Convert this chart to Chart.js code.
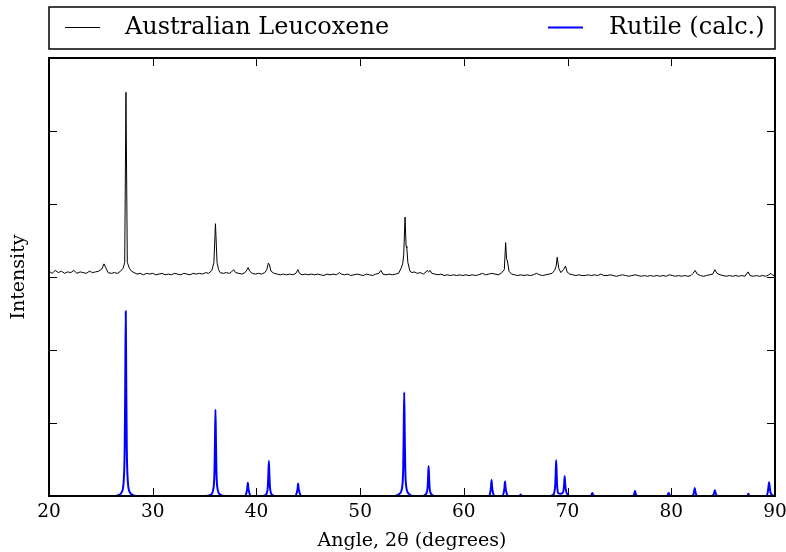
<!DOCTYPE html>
<html>
<head>
<meta charset="utf-8">
<script src="https://cdn.jsdelivr.net/npm/chart.js@4.4.1/dist/chart.umd.min.js"></script>
<style>
  body { margin: 0; background: #fff; }
  #wrap { width: 786px; height: 552px; }
</style>
</head>
<body>
<div id="wrap"><canvas id="xrd" width="786" height="552"></canvas></div>
<script>
// measured pattern, 2theta (deg) vs intensity (offset by 3)
const leucoxene = [
    [20.0,3.08],[20.3,3.05],[20.6,3.09],[20.9,3.06],[21.2,3.08],[21.5,3.05],[21.8,3.07],[22.1,3.06],
    [22.4,3.09],[22.7,3.05],[23.0,3.07],[23.3,3.06],[23.6,3.05],[23.9,3.08],[24.2,3.06],[24.5,3.07],
    [24.8,3.08],[25.1,3.11],[25.3,3.18],[25.5,3.12],[25.7,3.06],[26.0,3.05],[26.3,3.06],[26.6,3.05],
    [26.9,3.08],[27.15,3.12],[27.3,3.2],[27.42,5.53],[27.55,3.2],[27.75,3.12],
    [27.95,3.08],[28.2,3.06],[28.5,3.04],[28.8,3.05],[29.1,3.03],[29.4,3.05],[29.7,3.04],[30.0,3.05],
    [30.3,3.03],[30.6,3.04],[30.9,3.05],[31.2,3.03],[31.5,3.04],[31.8,3.03],[32.1,3.05],[32.4,3.04],
    [32.7,3.03],[33.0,3.05],[33.3,3.04],[33.6,3.03],[33.9,3.05],[34.2,3.04],[34.5,3.05],[34.8,3.04],
    [35.1,3.06],[35.4,3.05],[35.7,3.09],[35.9,3.2],[36.05,3.73],[36.2,3.2],[36.35,3.1],
    [36.5,3.06],[36.8,3.05],[37.1,3.06],[37.4,3.05],[37.6,3.07],[37.8,3.1],[38.0,3.06],[38.3,3.05],
    [38.6,3.04],[38.9,3.06],[39.1,3.1],[39.2,3.13],[39.35,3.08],[39.6,3.05],[39.9,3.04],[40.2,3.05],
    [40.5,3.04],[40.8,3.06],[41.0,3.1],[41.15,3.19],[41.25,3.17],[41.4,3.08],[41.7,3.05],[42.0,3.04],
    [42.3,3.03],[42.6,3.04],[42.9,3.03],[43.2,3.04],[43.5,3.03],[43.8,3.05],[44.0,3.1],[44.15,3.05],
    [44.4,3.03],[44.7,3.04],[45.0,3.03],[45.3,3.04],[45.6,3.03],[45.9,3.04],[46.2,3.03],[46.5,3.02],
    [46.8,3.04],[47.1,3.03],[47.4,3.04],[47.7,3.03],[48.0,3.06],[48.2,3.04],[48.5,3.03],[48.8,3.04],
    [49.1,3.02],[49.4,3.03],[49.7,3.04],[50.0,3.03],[50.3,3.02],[50.6,3.04],[50.9,3.03],[51.2,3.02],
    [51.5,3.04],[51.8,3.05],[52.0,3.09],[52.2,3.04],[52.5,3.03],[52.8,3.04],[53.1,3.03],[53.4,3.04],
    [53.7,3.05],[53.95,3.12],[54.1,3.18],[54.2,3.3],[54.33,3.82],[54.43,3.42],[54.5,3.4],[54.6,3.2],
    [54.8,3.08],[55.0,3.06],[55.2,3.07],[55.5,3.05],[55.8,3.06],[56.1,3.04],[56.35,3.07],[56.45,3.09],
    [56.6,3.07],[56.75,3.09],[56.9,3.05],[57.2,3.04],[57.5,3.03],[57.8,3.04],[58.1,3.02],[58.4,3.03],
    [58.7,3.02],[59.0,3.03],[59.3,3.02],[59.6,3.03],[59.9,3.02],[60.2,3.03],[60.5,3.02],[60.8,3.03],
    [61.1,3.02],[61.4,3.03],[61.8,3.05],[62.1,3.03],[62.4,3.04],[62.7,3.05],[63.0,3.04],[63.3,3.03],
    [63.6,3.05],[63.9,3.1],[64.03,3.47],[64.12,3.25],[64.2,3.22],[64.35,3.08],[64.6,3.04],
    [64.9,3.03],[65.2,3.02],[65.5,3.03],[65.8,3.02],[66.1,3.03],[66.4,3.02],[66.7,3.03],[67.0,3.05],
    [67.3,3.03],[67.6,3.02],[67.9,3.03],[68.2,3.04],[68.5,3.05],[68.75,3.09],[68.9,3.15],[69.0,3.27],
    [69.15,3.12],[69.35,3.06],[69.6,3.1],[69.8,3.15],[69.95,3.07],[70.2,3.04],[70.5,3.03],[70.8,3.02],
    [71.1,3.03],[71.4,3.02],[71.7,3.02],[72.0,3.03],[72.3,3.02],[72.6,3.03],[72.9,3.02],[73.2,3.04],
    [73.5,3.02],[73.8,3.02],[74.1,3.03],[74.4,3.02],[74.7,3.01],[75.0,3.02],[75.3,3.03],[75.6,3.02],
    [75.9,3.01],[76.2,3.02],[76.5,3.03],[76.8,3.02],[77.1,3.01],[77.4,3.02],[77.7,3.01],[78.0,3.02],
    [78.3,3.01],[78.6,3.02],[78.9,3.01],[79.2,3.02],[79.5,3.01],[79.8,3.03],[80.1,3.02],[80.4,3.01],
    [80.7,3.02],[81.0,3.01],[81.3,3.02],[81.6,3.01],[81.9,3.02],[82.1,3.05],[82.3,3.09],[82.5,3.04],
    [82.8,3.02],[83.1,3.01],[83.4,3.02],[83.7,3.03],[84.0,3.04],[84.2,3.1],[84.4,3.05],[84.7,3.03],
    [85.0,3.02],[85.3,3.01],[85.6,3.02],[85.9,3.01],[86.2,3.02],[86.5,3.01],[86.8,3.02],[87.1,3.01],
    [87.4,3.07],[87.6,3.02],[87.9,3.01],[88.2,3.02],[88.5,3.01],[88.8,3.02],[89.1,3.01],[89.4,3.03],
    [89.6,3.05],[89.8,3.02],[90.0,3.03]
];
// calculated rutile pattern
const rutile = [
    [20,0],
    [26.3,0],[26.8,0.02],[27.0,0.05],[27.2,0.2],[27.3,0.66],[27.35,1.52],[27.4,2.53],[27.45,1.52],[27.5,0.66],[27.6,0.2],[27.8,0.05],[28.0,0.02],[28.5,0],
    [35.1,0],[35.6,0.02],[35.85,0.1],[35.95,0.31],[36.0,0.71],[36.05,1.18],[36.1,0.71],[36.15,0.31],[36.25,0.1],[36.5,0.02],[37.0,0],
    [38.9,0],[39.05,0.05],[39.12,0.11],[39.17,0.18],[39.22,0.11],[39.3,0.05],[39.45,0],
    [40.5,0],[40.8,0.01],[41.0,0.04],[41.1,0.13],[41.15,0.29],[41.2,0.48],[41.25,0.29],[41.3,0.13],[41.4,0.04],[41.6,0.01],[41.9,0],
    [43.75,0],[43.9,0.05],[43.97,0.1],[44.02,0.17],[44.07,0.1],[44.15,0.05],[44.3,0],
    [53.3,0],[53.8,0.03],[54.05,0.12],[54.15,0.37],[54.2,0.85],[54.25,1.42],[54.3,0.85],[54.35,0.37],[54.45,0.12],[54.7,0.03],[55.2,0],
    [55.9,0],[56.2,0.01],[56.4,0.04],[56.5,0.11],[56.55,0.25],[56.6,0.41],[56.65,0.25],[56.7,0.11],[56.8,0.04],[57.0,0.01],[57.3,0],
    [62.4,0],[62.55,0.05],[62.62,0.13],[62.67,0.22],[62.72,0.13],[62.8,0.05],[62.95,0],
    [63.7,0],[63.85,0.05],[63.92,0.12],[63.97,0.2],[64.02,0.12],[64.1,0.05],[64.25,0],
    [65.3,0],[65.42,0.01],[65.48,0.02],[65.54,0.01],[65.65,0],
    [68.2,0],[68.5,0.01],[68.7,0.04],[68.8,0.13],[68.85,0.29],[68.9,0.49],[68.95,0.29],[69.0,0.13],[69.1,0.04],[69.3,0.03],
    [69.5,0.04],[69.6,0.07],[69.67,0.16],[69.72,0.27],[69.77,0.16],[69.85,0.07],[70.0,0.02],[70.2,0],
    [72.2,0],[72.33,0.02],[72.39,0.04],[72.45,0.02],[72.6,0],
    [76.3,0],[76.43,0.03],[76.5,0.07],[76.57,0.03],[76.7,0],
    [79.55,0],[79.68,0.02],[79.75,0.04],[79.82,0.02],[79.95,0],
    [82.0,0],[82.15,0.03],[82.21,0.07],[82.26,0.11],[82.31,0.07],[82.37,0.03],[82.5,0],
    [83.95,0],[84.1,0.03],[84.15,0.05],[84.2,0.08],[84.25,0.05],[84.3,0.03],[84.45,0],
    [87.25,0],[87.37,0.01],[87.43,0.03],[87.49,0.01],[87.6,0],
    [89.15,0],[89.3,0.05],[89.37,0.12],[89.43,0.19],[89.49,0.12],[89.56,0.05],[89.75,0.01],[90,0]
];
const seriesNames = ["Australian Leucoxene", "Rutile (calc.)"];
const xTicks = [20, 30, 40, 50, 60, 70, 80, 90];

const serif = "'DejaVu Serif', serif";

// frame, inward ticks and the boxed legend, matplotlib style
const frameAndLegend = {
    id: 'frameAndLegend',
    afterDraw(chart) {
        const ctx = chart.ctx;
        const a = chart.chartArea;
        const xs = chart.scales.x, ys = chart.scales.y;
        ctx.save();
        ctx.strokeStyle = '#000';
        ctx.lineWidth = 1;
        xs.ticks.forEach(t => {
            const px = Math.round(xs.getPixelForValue(t.value)) + 0.5;
            ctx.beginPath();
            ctx.moveTo(px, a.bottom); ctx.lineTo(px, a.bottom - 8);
            ctx.moveTo(px, a.top); ctx.lineTo(px, a.top + 8);
            ctx.stroke();
        });
        ys.ticks.forEach(t => {
            const py = Math.round(ys.getPixelForValue(t.value)) + 0.5;
            ctx.beginPath();
            ctx.moveTo(a.left, py); ctx.lineTo(a.left + 8, py);
            ctx.moveTo(a.right, py); ctx.lineTo(a.right - 8, py);
            ctx.stroke();
        });
        ctx.lineWidth = 2;
        ctx.strokeRect(a.left, a.top, a.right - a.left, a.bottom - a.top);

        // legend box
        ctx.lineWidth = 1.5;
        ctx.strokeRect(a.left, 7, a.right - a.left, 42);
        const ds = chart.data.datasets;
        const slots = [[65, 125], [548, 609]];
        ctx.font = "24px " + serif;
        ctx.textBaseline = 'middle';
        ctx.fillStyle = '#000';
        ds.forEach((d, i) => {
            ctx.strokeStyle = d.borderColor;
            ctx.lineWidth = d.borderWidth;
            ctx.beginPath();
            ctx.moveTo(slots[i][0], 27.5); ctx.lineTo(slots[i][0] + 35, 27.5);
            ctx.stroke();
            ctx.fillText(d.label, slots[i][1], 28);
        });
        ctx.restore();
    }
};

const ctx = document.getElementById("xrd").getContext("2d");
new Chart(ctx, {
    type: 'line',
    data: {
        datasets: [{
            label: seriesNames[0],
            data: leucoxene.map(p => ({x: p[0], y: p[1]})),
            borderColor: '#000000',
            borderWidth: 1,
            pointRadius: 0,
            tension: 0
        }, {
            label: seriesNames[1],
            data: rutile.map(p => ({x: p[0], y: p[1]})),
            borderColor: '#0000ff',
            borderWidth: 2,
            pointRadius: 0,
            cubicInterpolationMode: 'monotone'
        }]
    },
    options: {
        responsive: false,
        animation: false,
        layout: { padding: { top: 58, right: 11, left: 0, bottom: 0 } },
        plugins: {
            legend: { display: false },
            tooltip: { enabled: false }
        },
        scales: {
            x: {
                type: 'linear',
                min: 20,
                max: 90,
                afterBuildTicks: s => { s.ticks = xTicks.map(v => ({value: v})); },
                afterFit: s => { s.height = 56; s.paddingLeft = 0; s.paddingRight = 0; },
                grid: { display: false, drawTicks: false },
                border: { display: false },
                ticks: { color: '#000', font: { family: serif, size: 18.5 }, padding: 5, maxRotation: 0 },
                title: { display: true, text: 'Angle, 2θ (degrees)', color: '#000',
                         font: { family: serif, size: 19 }, padding: { top: 0, bottom: 0 } }
            },
            y: {
                min: 0,
                max: 6,
                afterFit: s => { s.width = 49; s.paddingTop = 0; s.paddingBottom = 0; },
                grid: { display: false, drawTicks: false },
                border: { display: false },
                ticks: { stepSize: 1, display: false },
                title: { display: true, text: 'Intensity', color: '#000',
                         font: { family: serif, size: 19 }, padding: { top: 8, bottom: 0 } }
            }
        }
    },
    plugins: [frameAndLegend]
});
</script>
</body>
</html>
